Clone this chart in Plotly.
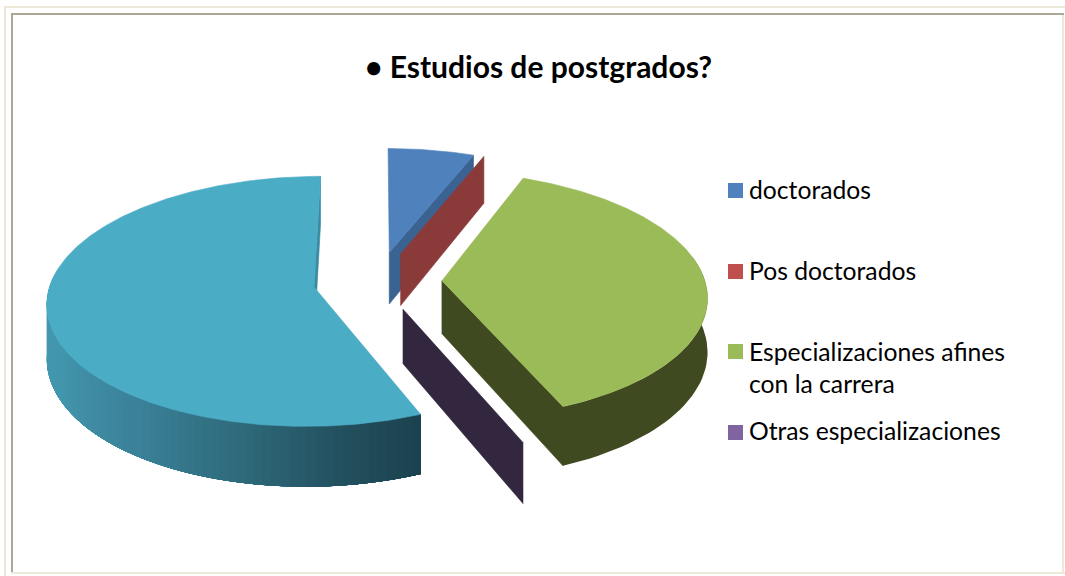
import math
import plotly.graph_objects as go

# ---- data ----
categories = ["doctorados", "Pos doctorados", "Especializaciones afines<br>con la carrera", "Otras especializaciones", ""]
values = [6, 0, 37.7, 0, 56.3]
title_text = "<b>• Estudios de postgrados?</b>"

# ---- styles ----
top_colors = ["#4F81BD", "#C0504D", "#9BBB59", "#8064A2", "#4BACC6"]
wall_colors = ["#3A6392", "#8B3A3A", "#3F4A20", "#33273F", "#3A8BA2"]
FONT = "Lato, Carlito, Calibri, sans-serif"

# projection of the exploded 3-D disc onto the page
CX, CY, RX, RY, K, H, EXPLODE = 377.5, 281, 263, 122, 0.115, 53, 0.245


def project(x, y, z=0.0):
    w = 1 + K * y
    return CX + RX * x / w, CY - RY * y / w + z * H / w


def rim(theta, ox, oy):
    t = math.radians(theta)
    return ox + math.sin(t), oy + math.cos(t)


def poly(points, color, name="", line=True):
    xs = [p[0] for p in points] + [points[0][0]]
    ys = [p[1] for p in points] + [points[0][1]]
    return go.Scatter(x=xs, y=ys, mode="lines", fill="toself", fillcolor=color,
                      line=dict(color=color, width=0.6 if line else 0), hoverinfo="skip",
                      showlegend=False, name=name)


def lerp_color(stops, f):
    for (a, ca), (b, cb) in zip(stops, stops[1:]):
        if f <= b:
            u = (f - a) / (b - a)
            return "rgb(%d,%d,%d)" % tuple(round(p + (q - p) * u) for p, q in zip(ca, cb))
    return "rgb(%d,%d,%d)" % stops[-1][1]


teal_rim_stops = [(0.0, (27, 66, 78)), (0.13, (35, 80, 95)), (0.30, (47, 107, 124)),
                  (0.48, (58, 129, 153)), (0.70, (66, 149, 172)), (1.0, (70, 156, 180))]

total = sum(values)
spans = []
acc = 0.0
for v in values:
    a0 = acc
    acc += v / total * 360
    spans.append((a0, acc))
offsets = []
for a0, a1 in spans:
    m = math.radians((a0 + a1) / 2)
    offsets.append((EXPLODE * math.sin(m), EXPLODE * math.cos(m)))

fig = go.Figure()


def radial_wall(i, theta):
    ox, oy = offsets[i]
    rx, ry = rim(theta, ox, oy)
    return poly([project(ox, oy), project(rx, ry), project(rx, ry, 1), project(ox, oy, 1)], wall_colors[i])


def top_face(i):
    ox, oy = offsets[i]
    a0, a1 = spans[i]
    n = max(2, int(a1 - a0) * 2)
    pts = [project(ox, oy)]
    for j in range(n + 1):
        pts.append(project(*rim(a0 + (a1 - a0) * j / n, ox, oy)))
    return poly(pts, top_colors[i], categories[i])


def rim_band(i, t0, t1, color, steps=40):
    """Side band of a slice between two angles, as one polygon."""
    ox, oy = offsets[i]
    angles = [t0 + (t1 - t0) * j / steps for j in range(steps + 1)]
    upper = [project(*rim(t, ox, oy)) for t in angles]
    lower = [project(*rim(t, ox, oy), 1) for t in reversed(angles)]
    return poly(upper + lower, color, line=False)


# teal (back-left slice): painted from the far end forward, each band overlapping the next
fig.add_trace(radial_wall(4, 360))
teal0, teal1 = spans[4][0], 278
N = 70
for j in range(N):
    fig.add_trace(rim_band(4, teal0, teal1 - (teal1 - teal0) * j / N, lerp_color(teal_rim_stops, 1 - (j + 0.5) / N)))
fig.add_trace(top_face(4))

# blue
fig.add_trace(radial_wall(0, spans[0][1]))
fig.add_trace(top_face(0))
# zero-size red slice: only its wall shows
fig.add_trace(radial_wall(1, spans[1][1]))
# zero-size purple slice
fig.add_trace(radial_wall(3, spans[3][0]))
# green
fig.add_trace(radial_wall(2, spans[2][1]))
fig.add_trace(rim_band(2, 78, spans[2][1], wall_colors[2]))
fig.add_trace(top_face(2))

# legend
legend_y = [190.5, 271.5, 351.5, 432.5]
text_y = [189, 270, 367, 430]
for i in range(4):
    fig.add_trace(go.Scatter(x=[735.5], y=[legend_y[i]], mode="markers", name=categories[i].replace("<br>", " "),
                             marker=dict(symbol="square", size=15, color=top_colors[i], line=dict(width=0)),
                             hoverinfo="name", showlegend=False))
    fig.add_annotation(x=747, y=text_y[i], xref="x", yref="y", text=categories[i], showarrow=False,
                       xanchor="left", yanchor="middle", align="left",
                       font=dict(family=FONT, size=24.7, color="#000000"))

fig.add_annotation(x=538, y=66, xref="x", yref="y", text=title_text, showarrow=False,
                   xanchor="center", yanchor="middle",
                   font=dict(family=FONT, size=30, color="#000000"))


def frame_line(x0, y0, x1, y1, color):
    return dict(type="line", x0=x0, y0=y0, x1=x1, y1=y1, xref="x", yref="y",
                line=dict(color=color, width=2), layer="below")


shapes = [
    frame_line(4, 7, 1065, 7, "#ECE9D8"),
    frame_line(5, 6, 5, 576, "#ECE9D8"),
    frame_line(1063, 15, 1063, 574, "#ECE9D8"),
    frame_line(11, 573, 1065, 573, "#ECE9D8"),
    frame_line(11, 14, 1064, 14, "#ACA899"),
    frame_line(12, 13, 12, 572, "#ACA899"),
]

fig.update_layout(
    width=1065, height=576, margin=dict(l=0, r=0, t=0, b=0),
    paper_bgcolor="#FFFFFF", plot_bgcolor="#FFFFFF", showlegend=False, shapes=shapes,
    xaxis=dict(range=[0, 1065], visible=False, fixedrange=True),
    yaxis=dict(range=[576, 0], visible=False, fixedrange=True),
)

fig.write_html("out.html", config={"displayModeBar": False},
               post_script="document.body.style.margin='0';document.documentElement.style.overflow='hidden';")
